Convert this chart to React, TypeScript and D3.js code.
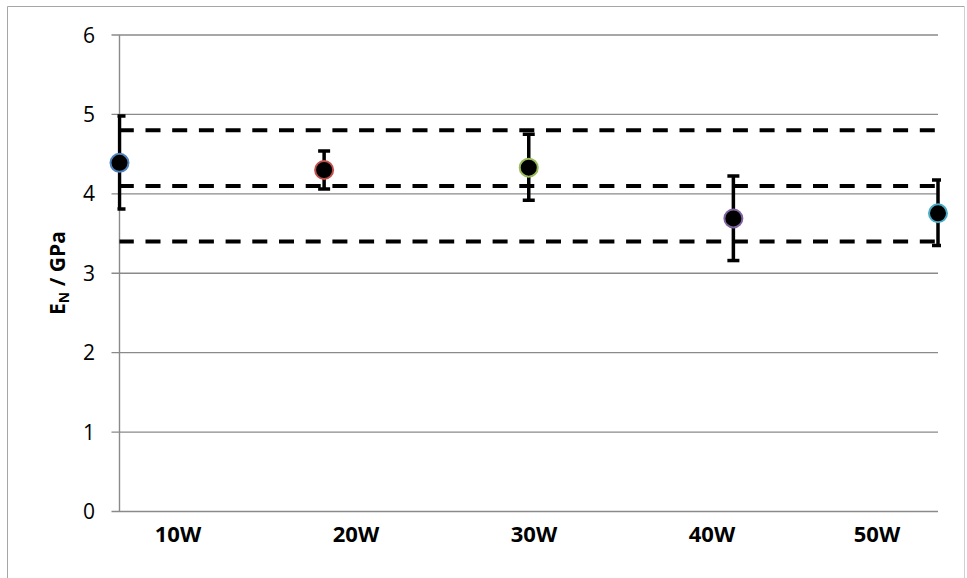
import React from 'react';
import * as d3 from 'd3';

const categories = ['10W', '20W', '30W', '40W', '50W'];
const xValues = [1, 2, 3, 4, 5];
const means = [4.39, 4.3, 4.33, 3.69, 3.755];
const errUpper = [4.98, 4.54, 4.75, 4.225, 4.175];
const errLower = [3.81, 4.06, 3.92, 3.16, 3.35];
const refLines = [4.8, 4.1, 3.4];
const yTicks = [0, 1, 2, 3, 4, 5, 6];

const markerColors = ['#4F81BD', '#C0504D', '#9BBB59', '#8064A2', '#4BACC6'];

const W = 967;
const H = 578;
const FONT = '"Open Sans", "Liberation Sans", sans-serif';

export default function App() {
  const x = d3.scaleLinear().domain([1, 5]).range([119.5, 938]);
  const y = d3.scaleLinear().domain([0, 6]).range([511.5, 35]);
  const labelScale = d3.scalePoint<string>().domain(categories).range([178, 890]);
  const [x0, x1] = x.range();
  const [yb, yt] = y.range();
  const maxLabelCenter = x1 - 61;
  const capHalf = 6;

  const line = d3.line<[number, number]>().x((d) => d[0]).y((d) => d[1]);

  return (
    <svg
      width={W}
      height={H}
      style={{ position: 'absolute', left: 0, top: 0, background: '#fff' }}
      fontFamily={FONT}
    >
      <defs>
        <clipPath id="plotClip">
          <rect x={x0 - 2} y={yt - 10} width={x1 - x0 + 5} height={yb - yt + 20} />
        </clipPath>
      </defs>
      <rect x={0} y={0} width={W} height={H} fill="#fff" />
      {/* outer chart border */}
      <line x1={7.5} y1={6.5} x2={7.5} y2={H} stroke="#a6a6a6" strokeWidth={1} />
      <line x1={7.5} y1={6.5} x2={964.5} y2={6.5} stroke="#a6a6a6" strokeWidth={1} />
      <line x1={964.5} y1={6.5} x2={964.5} y2={H} stroke="#d0d0d0" strokeWidth={1} />

      {/* gridlines and ticks */}
      {yTicks.map((t) => (
        <g key={t}>
          <line x1={x0 - 8} x2={x1} y1={y(t)} y2={y(t)} stroke="#8a8a8a" strokeWidth={1.4} />
          <text
            x={95}
            y={y(t) + 7.5}
            textAnchor="end"
            fontSize={21}
            fill="#000"
          >
            {t}
          </text>
        </g>
      ))}
      {/* y axis line */}
      <line x1={x0} x2={x0} y1={yt} y2={yb} stroke="#8a8a8a" strokeWidth={1.4} />

      {/* x category labels */}
      {categories.map((c) => (
        <text
          key={c}
          x={Math.min(labelScale(c) as number, maxLabelCenter)}
          y={541.5}
          textAnchor="middle"
          fontSize={22}
          fontWeight="bold"
          fill="#000"
        >
          {c}
        </text>
      ))}

      {/* reference dashed lines */}
      {refLines.map((v) => (
        <path
          key={v}
          d={line([
            [x0, y(v)],
            [x1, y(v)],
          ]) as string}
          stroke="#000"
          strokeWidth={4}
          strokeDasharray="15 11.7"
          strokeDashoffset={0.7}
          fill="none"
        />
      ))}

      {/* error bars */}
      <g clipPath="url(#plotClip)">
        {xValues.map((xv, i) => {
          const cx = x(xv);
          return (
            <g key={i} stroke="#000" strokeWidth={3.5}>
              <line x1={cx} x2={cx} y1={y(errUpper[i])} y2={y(errLower[i])} />
              <line x1={cx - capHalf} x2={cx + capHalf} y1={y(errUpper[i])} y2={y(errUpper[i])} />
              <line x1={cx - capHalf} x2={cx + capHalf} y1={y(errLower[i])} y2={y(errLower[i])} />
            </g>
          );
        })}
      </g>

      {/* markers */}
      {xValues.map((xv, i) => (
        <circle
          key={i}
          cx={x(xv)}
          cy={y(means[i])}
          r={9}
          fill="#000"
          stroke={markerColors[i]}
          strokeWidth={2}
        />
      ))}

      {/* y axis title */}
      <text
        transform={`translate(65, 273) rotate(-90)`}
        textAnchor="middle"
        fontSize={21}
        fontWeight="bold"
        fill="#000"
      >
        E
        <tspan fontSize={14} dy={4}>N</tspan>
        <tspan dy={-4}> / GPa</tspan>
      </text>
    </svg>
  );
}
